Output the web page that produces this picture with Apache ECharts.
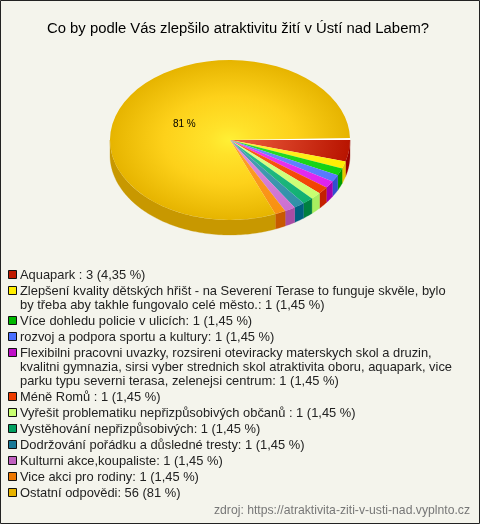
<!DOCTYPE html>
<html><head><meta charset="utf-8">
<style>html,body{margin:0;padding:0;background:#f4f4ec}#c{width:480px;height:524px}</style>
<script src="https://cdn.jsdelivr.net/npm/echarts@6/dist/echarts.min.js"></script>
</head><body><div id="c"></div>
<script>
const titleText = 'Co by podle Vás zlepšilo atraktivitu žití v Ústí nad Labem?';
const sourceText = 'zdroj: https://atraktivita-ziti-v-usti-nad.vyplnto.cz';
const categories = [
  'Aquapark : 3 (4,35 %)',
  'Zlepšení kvality dětských hřišt - na Severení Terase to funguje skvěle, bylo\nby třeba aby takhle fungovalo celé město.: 1 (1,45 %)',
  'Více dohledu policie v ulicích: 1 (1,45 %)',
  'rozvoj a podpora sportu a kultury: 1 (1,45 %)',
  'Flexibilni pracovni uvazky, rozsireni oteviracky materskych skol a druzin,\nkvalitni gymnazia, sirsi vyber strednich skol atraktivita oboru, aquapark, vice\nparku typu severni terasa, zelenejsi centrum: 1 (1,45 %)',
  'Méně Romů : 1 (1,45 %)',
  'Vyřešit problematiku nepřizpůsobivých občanů : 1 (1,45 %)',
  'Vystěhování nepřizpůsobivých: 1 (1,45 %)',
  'Dodržování pořádku a důsledné tresty: 1 (1,45 %)',
  'Kulturni akce,koupaliste: 1 (1,45 %)',
  'Vice akci pro rodiny: 1 (1,45 %)',
  'Ostatní odpovědi: 56 (81 %)'
];
const values = [3,1,1,1,1,1,1,1,1,1,1,56];
const sliceLabels = ['','','','','','','','','','','','81 %'];
const legendColors = ['#c01a00','#ffee00','#00b800','#4a70ff','#c010c8','#ee3c00','#c8ff70','#00a060','#1a7a99','#c060c0','#ee7700','#e8b400'];
const innerColors  = ['#f06040','#fff040','#30e030','#7090ff','#f040f0','#ff6020','#e0ff90','#30c090','#50a0b8','#e090e0','#ffa030','#fff035'];
const outerColors  = ['#b81400','#ffee00','#10d010','#5577ff','#dd22ee','#f04000','#c8ff70','#10b070','#3090a8','#cc70d0','#f89010','#e6b400'];
const sideColors   = ['#980000','#e8c800','#009c00','#3050d0','#a000b0','#c42000','#a8ee60','#008040','#006080','#a84ca4','#c85a00','#c89800'];

const CX = 230, CY = 140, R = 120, SY = 2/3, DEPTH = 15;
const total = values.reduce((a,b)=>a+b,0);
const startAngles = [];
values.reduce((acc,v,i)=>{ startAngles[i]=acc; return acc+v/total*Math.PI*2; },0);

function wallPoints(a0,a1){
  const s=Math.max(a0,0), e=Math.min(a1,Math.PI);
  if(e<=s) return null;
  const top=[],bot=[];
  const n=Math.max(2,Math.ceil((e-s)/0.02));
  for(let k=0;k<=n;k++){
    const a=s+(e-s)*k/n;
    const x=CX+R*Math.cos(a), y=CY+R*SY*Math.sin(a);
    top.push([x,y]); bot.unshift([x,y+DEPTH]);
  }
  return top.concat(bot);
}
function renderItem(params,api){
  const i=params.dataIndex;
  const a0=startAngles[i];
  const a1=a0+api.value(0)/total*Math.PI*2;
  const isLast=i===values.length-1;
  const children=[];
  const pts=wallPoints(a0,a1);
  if(pts) children.push({type:'polygon',shape:{points:pts},style:{fill:sideColors[i],stroke:sideColors[i],lineWidth:0.3}});
  if(isLast){
    children.push({type:'sector',x:CX,y:CY,scaleY:SY,
      shape:{cx:0,cy:0,r:R,r0:0,startAngle:Math.PI*2-0.03,endAngle:Math.PI*2},style:{fill:'#ffffff'}});
  }
  const stops=isLast
    ? [{offset:0,color:innerColors[i]},{offset:0.18,color:'#ffe22a'},{offset:0.55,color:'#fdd11a'},{offset:1,color:outerColors[i]}]
    : [{offset:0,color:innerColors[i]},{offset:1,color:outerColors[i]}];
  children.push({type:'sector',x:CX,y:CY,scaleY:SY,
    shape:{cx:0,cy:0,r:R,r0:0,startAngle:a0,endAngle:isLast?a1-0.025:a1},
    style:{fill:{type:'radial',x:0,y:0,r:R,global:true,colorStops:stops}}});
  if(sliceLabels[i]){
    const m=(a0+a1)/2;
    children.push({type:'text',x:CX+55*Math.cos(m),y:CY+55*SY*Math.sin(m)+5,
      style:{text:sliceLabels[i],fill:'#000',font:'10px "Liberation Sans", Arial, sans-serif',align:'center',verticalAlign:'middle'}});
  }
  return {type:'group',children};
}
const legendEls=[];
let ly=268;
categories.forEach((c,i)=>{
  const lines=c.split('\n').length;
  legendEls.push({type:'rect',shape:{x:8.5,y:ly+2.5,width:8,height:8},style:{fill:legendColors[i],stroke:'#111',lineWidth:1}});
  legendEls.push({type:'text',x:20,y:ly,style:{text:c,fill:'#222',font:'12.9px "Liberation Sans", Arial, sans-serif',lineHeight:14,align:'left',verticalAlign:'top'}});
  ly+=lines*14+2;
});
const chart=echarts.init(document.getElementById('c'),null,{width:480,height:524});
chart.setOption({
  animation:false,
  backgroundColor:'#f4f4ec',
  title:{text:titleText,left:238,top:16,textAlign:'center',
    textStyle:{fontFamily:'"Liberation Sans", Arial, sans-serif',fontSize:14.85,fontWeight:'normal',color:'#000'}},
  series:[{type:'custom',coordinateSystem:'none',silent:true,renderItem,
    data:values.map((v,i)=>({name:categories[i],value:[v]}))}],
  graphic:[
    {type:'rect',shape:{x:0.5,y:0.5,width:479,height:523},style:{fill:'none',stroke:'#222',lineWidth:1},z:10},
    ...legendEls,
    {type:'text',right:10,top:505,style:{text:sourceText,fill:'#777',font:'12.2px "Liberation Sans", Arial, sans-serif'}}
  ]
});
chart.setOption({title:{left:233}});
</script></body></html>
